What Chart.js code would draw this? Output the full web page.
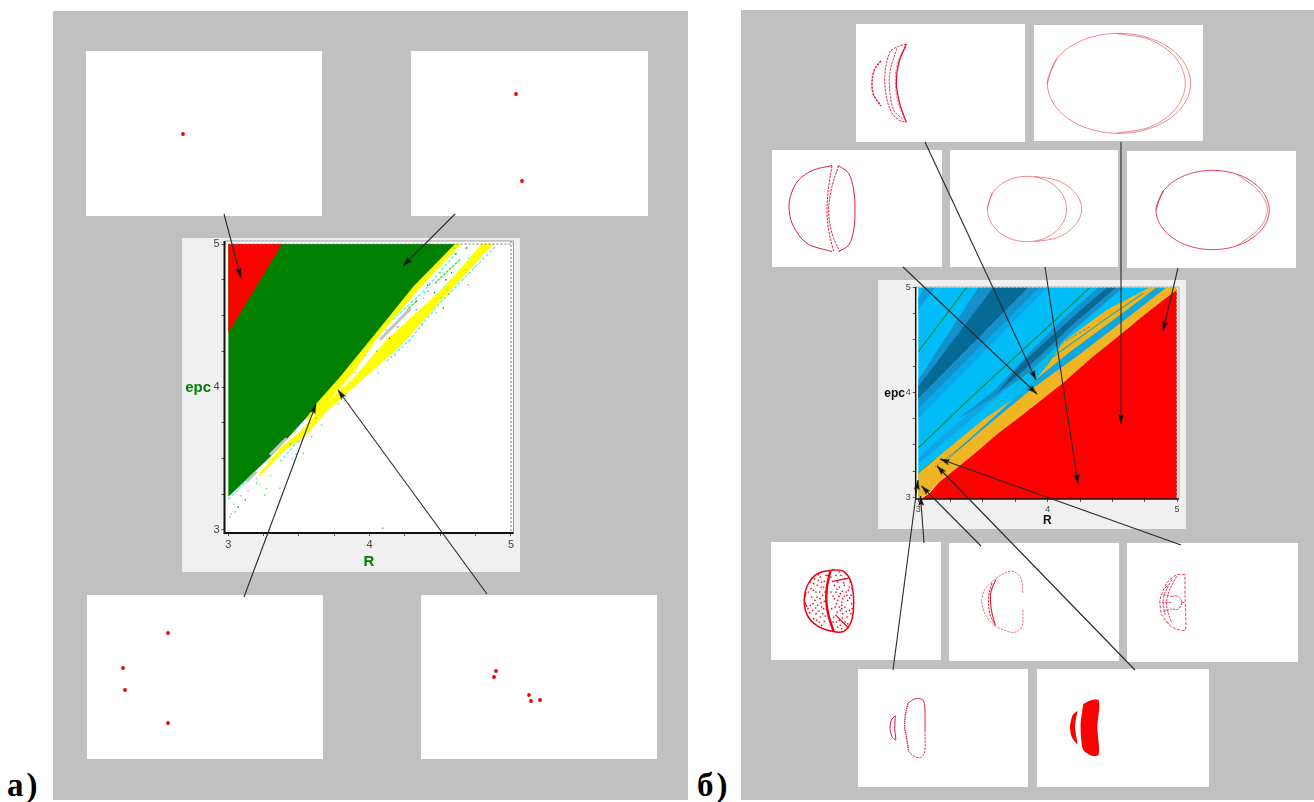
<!DOCTYPE html>
<html><head><meta charset="utf-8">
<script src="https://cdn.jsdelivr.net/npm/chart.js@4/dist/chart.umd.js"></script>
<style>
html,body{margin:0;padding:0;background:#fff}
#page{position:relative;width:1314px;height:802px;overflow:hidden;background:#fff}
.gray{position:absolute;background:#c0c0c0}
.box{position:absolute;background:#fff}
.box canvas,#overlay{position:absolute;left:0;top:0;filter:blur(.4px)}
.frame{background:#f0f0f0}
.lab{position:absolute;font:bold 33px "Liberation Serif",serif;letter-spacing:3px;color:#000;line-height:33px}
</style></head><body><div id="page">
<div class="gray" style="left:53px;top:11px;width:635px;height:789px"></div>
<div class="gray" style="left:741px;top:10px;width:573px;height:790px"></div>
<div class="lab" style="left:7px;top:769px">а)</div>
<div class="lab" style="left:697px;top:769px">б)</div>
</div>
<script>
// ---------- main map а) : values read as [R, epc]
const AXIS_TICKS=[3,3.25,3.5,3.75,4,4.25,4.5,4.75,5];
const A_RED=[[3,5],[3.38,5],[3,4.38]];
const A_GREEN=[[3,5],[4.62,5],[4.33,4.69],[4.06,4.38],[3.884,4.14],[3.767,4.0],[3.672,3.89],[3.554,3.787],[3.318,3.532],[3,3.233]];
const A_YELLOW_1=[[4.604,5],[4.651,5],[4.344,4.68],[4.05,4.335],[3.884,4.097],[3.767,3.968],[3.672,3.852],[3.566,3.777],[3.55,3.78],[3.625,3.887],[3.79,4.07],[4.073,4.412],[4.309,4.703]];
const A_YELLOW_2=[[4.793,5],[4.875,5],[4.568,4.669],[4.215,4.283],[3.908,4.015],[3.696,3.828],[3.554,3.665],[3.389,3.548],[3.224,3.38],[3.212,3.385],[3.366,3.572],[3.507,3.688],[3.672,3.863],[3.884,4.062],[4.12,4.33],[4.521,4.692]];
const A_CYAN_LINES=[
 [[4.887,4.98],[4.497,4.587],[4.285,4.33],[4.12,4.18]],
 [[3.366,3.478],[3.531,3.665]],
 [[4.615,4.94],[4.38,4.667],[4.073,4.389],[3.884,4.155],[3.755,3.968]],
 [[4.78,4.96],[4.309,4.47]],
 [[3,3.215],[3.165,3.385]]];
const A_GREEN_LINES=[[[4.639,4.891],[4.462,4.727]],[[4.333,4.6],[4.262,4.54]],[[3.46,3.642],[3.36,3.56]]];
const A_GRAY_LINES=[[[4.29,4.55],[4.073,4.33]],[[3.413,3.642],[3.295,3.525]],[[3.2,3.408],[3.13,3.34]]];
const A_DOTS_DARK=[[4.686,4.972],[4.521,4.552],[4.54,4.75],[4.41,4.71],[4.33,4.6],[4.61,4.93],[3.12,3.21],[3.07,3.16],[4.2,4.42],[4.14,4.34],[4.46,4.66],[4.58,4.8]];
const A_DOTS_GREEN=[[3.047,3.128],[3.259,3.245],[3.59,3.653],[3.53,3.537],[3.66,3.735],[3.366,3.292],[4.56,4.65],[4.37,4.44],[3.62,3.78],[3.78,3.88],[3.2,3.33],[3.27,3.29],[3.48,3.53],[4.5,4.8],[4.39,4.66],[4.6,4.97],[4.12,4.4],[4.05,4.25],[3.44,3.6],[3.5,3.62]];
const A_DOTS_GRAY=[[3.012,3.093],[3.04,3.18],[3.09,3.24],[3.14,3.27],[3.2,3.36],[4.38,4.62],[3.9,4.1],[4.5,4.62],[4.55,4.68],[4.68,4.82],[3.02,3.11]];
const A_DOTS_CYAN=[[4.74,4.84],[4.47,4.52],[4.28,4.32],[4.06,4.1],[3.82,3.9],[3.45,3.5],[4.18,4.22],[3.3,3.38],[4.52,4.8],[4.43,4.72],[4.7,4.9],[3.22,3.32],[3.97,4.22]];
const A_DOTS_OTHER=[[4.092,3.012],[4.415,4.67],[4.33,4.54],[4.47,4.73]];
const A_DOT_ORANGE=[[4.698,4.715]];
// ---------- main map б)
const B_SKY=[[3,5],[5,5],[5,4.9],[3,3]];
const B_CORNER=[[3.04,5],[3.13,5],[3,4.784],[3,4.895]];
const B_MID_1=[[3.464,5],[3.94,5],[3,3.847],[3,4.117]];
const B_SOFT_1=[[3.94,5],[4.0,5],[3,3.75],[3,3.847]];
const B_DARK_1=[[3.58,5],[3.85,5],[3,3.943],[3,4.053]];
const B_SOFT_2=[[3.618,4.038],[3.65,4.0],[3.1,3.42],[3.01,3.33],[3,3.37],[3.077,3.467]];
const B_MID_2=[[4.392,5],[4.585,5],[4.198,4.592],[3.864,4.197],[3.593,3.96],[3.3,3.74],[3.59,4.02],[3.864,4.387],[4.095,4.672]];
const B_DARK_2=[[4.46,5],[4.53,5],[4.198,4.65],[3.864,4.26],[3.6,3.985],[3.8,4.28],[4.18,4.7]];
const B_GOLD=[[4.79,5],[5,5],[5,4.93],[4.572,4.54],[4.108,4.06],[3.696,3.68],[3.335,3.3],[3.052,3.02],[3.01,2.985],[3,2.985],[3,3.229],[3.31,3.546],[3.516,3.752],[3.747,3.943],[3.877,4.07],[4.018,4.29],[4.121,4.482],[4.456,4.784]];
const B_STRIP=[[4.843,5],[4.92,5],[4.611,4.705],[4.224,4.34],[3.864,4.02],[3.516,3.665],[3.232,3.365],[3.232,3.375],[3.516,3.69],[3.864,4.08],[4.173,4.387],[4.559,4.736]];
const B_RED=[[3.02,2.985],[3.09,3.04],[3.16,3.14],[3.232,3.212],[3.43,3.41],[3.619,3.61],[3.8,3.78],[4.018,3.99],[4.121,4.09],[4.34,4.33],[4.559,4.546],[4.73,4.72],[4.894,4.879],[4.998,4.974],[5,2.985]];
const B_GREEN_LINES=[[[3.374,5],[3,4.387]],[[4.327,5],[4.018,4.641],[3.4,3.943],[3,3.47]],[[3.13,3.36],[3,3.226]]];
const B_GOLD_LINE=[[4.739,4.943],[4.456,4.705],[4.095,4.387],[3.864,4.18]];
const B_EDGE_DASH=[[4.327,4.625],[4.044,4.42],[3.915,4.276],[3.722,4.02],[3.541,3.783]];
const B_DARK_SPECK=[[3.39,3.54],[3.13,3.29]];
// ---------- а) attractor insets (inset px)
const A1_PTS=[[97,83]];
const A2_PTS=[[105,43],[111,130]];
const A3_PTS=[[81,38],[36,73],[38,95],[81,128]];
const A4_PTS=[[75,76],[73,82],[108,100],[110,106],[119,105]];
// ---------- б) attractor insets (inset px ×3)
const C1_MAIN=[[151,60],[125,68],[103,83],[88,138],[88,198],[103,258],[128,288],[151,295]];
const C1_RIGHT=[[151,60],[128,118],[121,178],[131,238],[151,295]];
const C1_RIGHT2=[[148,65],[124,118],[118,178],[127,238],[148,290]];
const C1_INNER=[[123,73],[103,138],[101,198],[113,258],[143,288]];
const C1_LEFT=[[75,110],[55,138],[48,178],[53,213],[75,246]];
const C2_OUT=[[40,175],[69,100],[147,45],[255,25],[362,45],[441,100],[470,175],[441,250],[362,305],[255,325],[147,305],[69,250],[40,175],[69,100]];
const C2_IN=[[247,25],[350,45],[426,100],[454,175],[426,250],[350,305],[247,325]];
const C3_LEFT=[[180,47],[125,60],[80,90],[55,140],[52,185],[65,230],[105,280],[180,305]];
const C3_RIGHT=[[200,47],[230,70],[245,120],[249,180],[245,240],[230,285],[200,305]];
const C3_BAND_A=[[180,47],[170,110],[165,180],[170,240],[185,305]];
const C3_BAND_B=[[200,47],[180,110],[170,180],[180,250],[203,305]];
const C4_IN=[[112,177],[128,128],[171,92],[231,79],[291,92],[334,128],[350,177],[334,226],[291,262],[231,275],[171,262],[128,226],[112,177],[128,128]];
const C4_OUT=[[253,79],[324,92],[375,128],[395,177],[375,226],[324,262],[253,275]];
const C5_OUT=[[87,177],[110,118],[172,74],[257,58],[342,74],[404,118],[427,177],[404,236],[342,280],[257,296],[172,280],[110,236],[87,177],[110,118]];
const C5_IN=[[330,70],[395,120],[421,177],[395,234],[330,284]];
const C6_OUT=[[183,85],[143,93],[113,123],[100,168],[108,218],[138,251],[183,268],[218,268],[241,238],[248,183],[241,123],[218,88],[183,83]];
const C6_BAND=[[178,88],[168,133],[166,178],[173,223],[188,268]];
const C6_DIAG=[[[188,118],[233,108]],[[193,218],[233,258]],[[105,150],[100,175],[108,195]]];
const C6_DOTS=[[120,140],[128,125],[135,150],[142,115],[150,135],[155,160],[148,105],[160,118],[122,165],[132,175],[140,190],[150,182],[158,200],[125,205],[135,215],[148,225],[160,238],[145,240],[155,215],[162,150],[118,190],[128,230],[165,100],[138,165],[112,150],[118,120],[127,145],[139,130],[146,150],[152,120],[158,135],[111,200],[116,212],[126,185],[134,198],[144,207],[152,195],[160,178],[147,170],[137,235],[152,250],[163,222],[170,100],[130,110],[142,98],
[180,105],[195,100],[210,100],[222,110],[190,130],[205,135],[220,130],[235,135],[195,150],[208,155],[225,150],[240,160],[190,170],[200,175],[215,170],[230,175],[242,185],[192,195],[205,195],[222,195],[235,205],[198,210],[215,215],[228,225],[240,215],[205,235],[222,240],[200,255],[212,260],[180,150],[182,200],[186,240],[212,180],[212,190],[212,200],[237,120],[200,120],[228,160],[185,118],[198,142],[214,148],[232,145],[186,162],[204,163],[220,162],[236,168],[196,185],[208,205],[226,208],[188,225],[214,228],[196,240],[230,245],[208,250],[218,122],[243,140],[244,200],[226,96],[205,90]];
const C7_TOP=[[97,175],[107,140],[137,110],[167,90],[192,85],[215,105],[222,150]];
const C7_BOTTOM=[[222,200],[219,250],[197,268],[167,262],[137,248],[109,215],[97,175]];
const C7_IN_A=[[140,110],[125,150],[127,200],[139,248]];
const C7_IN_B=[[129,120],[119,160],[122,210],[137,245]];
const C8_OUT=[[174,95],[149,95],[119,120],[99,170],[104,215],[134,252],[174,262],[176,220],[174,160],[174,95]];
const C8_IN=[[[149,100],[124,150],[119,190],[134,240]],[[134,110],[109,165],[114,215]],[[134,160],[154,160],[164,178],[154,198],[134,198]],[[109,155],[134,160]],[[109,205],[134,198]],[[164,178],[174,178]],[[104,178],[134,178]],[[114,135],[124,125]],[[119,235],[129,245]]];
const C9_SMALL=[[112,140],[100,153],[96,178],[102,203],[113,213],[110,178],[112,140]];
const C9_BIG_TOP=[[150,103],[170,90],[192,91],[200,108],[201,183]];
const C9_BIG_BOT=[[201,183],[200,248],[190,265],[170,263],[152,248]];
const C9_BIG_LEFT=[[150,103],[143,133],[140,173],[145,203],[152,248]];
const C10_BIG=[[139,105],[164,93],[184,93],[187,113],[181,173],[186,233],[184,258],[164,260],[139,243],[132,203],[131,163],[136,123]];
const C10_SMALL=[[122,125],[107,138],[99,173],[104,203],[121,225],[117,198],[114,173],[117,148]];
// ---------- annotation arrows on the page [from, to]
const ARROWS=[
 [[224,214],[241,278]],[[455,214],[403,266]],[[244,597],[316,404]],[[487,594],[338,390]],
 [[925,142],[1036,380]],[[1121,142],[1121,424]],[[903,267],[1037,394]],[[1045,267],[1078,484]],[[1178,268],[1163,331]],
 [[924,543],[920.5,496]],[[893,670],[918,480]],[[981,546],[921.5,486]],[[1135,670],[937,466]],[[1181,545],[940,459]]];

const page=document.getElementById('page');
function makeBox(cls,l,t,w,h){const d=document.createElement('div');d.className=cls;d.style.cssText=`left:${l}px;top:${t}px;width:${w}px;height:${h}px`;const c=document.createElement('canvas');c.width=w;c.height=h;c.style.width=w+'px';c.style.height=h+'px';d.appendChild(c);page.appendChild(d);return c;}
const base={responsive:false,animation:false,devicePixelRatio:1,events:[],plugins:{legend:{display:false},tooltip:{enabled:false}}};
const shape=(d,c)=>({data:d,backgroundColor:c,borderWidth:0,pointRadius:0,fill:'shape',tension:0});
const stroke=(d,c,w,extra)=>Object.assign({data:d,borderColor:c,borderWidth:w,pointRadius:0,fill:false,tension:0},extra||{});
const dots=(d,c,r,st)=>({data:d,showLine:false,pointStyle:st||'circle',pointRadius:r,pointBackgroundColor:c,pointBorderWidth:0,fill:false});

function mainChart(cfg){
 const c=makeBox('box frame',cfg.l,cfg.t,cfg.w,cfg.h);
 const framePlugin={id:'frame',
  beforeDatasetsDraw(ch){const a=ch.chartArea,g=ch.ctx;g.save();g.fillStyle='#fff';g.fillRect(a.left,a.top,a.width,a.height);g.restore();},
  afterDatasetsDraw(ch){
   const a=ch.chartArea,x=ch.scales.x,y=ch.scales.y,g=ch.ctx;
   g.save();g.setLineDash([2,2]);g.strokeStyle=cfg.dash;g.lineWidth=1;g.beginPath();
   g.moveTo(x.getPixelForValue(5),a.top);g.lineTo(x.getPixelForValue(5),a.bottom);
   g.moveTo(a.left,y.getPixelForValue(5));g.lineTo(a.right,y.getPixelForValue(5));g.stroke();
   g.setLineDash([]);g.strokeStyle=cfg.edge;g.lineWidth=1;g.beginPath();g.moveTo(a.left,a.top);g.lineTo(a.right,a.top);g.lineTo(a.right,a.bottom);g.stroke();
   g.strokeStyle='#111';g.lineWidth=cfg.axisW;g.beginPath();g.moveTo(a.left,a.top);g.lineTo(a.left,a.bottom);g.lineTo(a.right,a.bottom);g.stroke();
   const t=y.options.title;g.font=`bold ${t.font.size}px "Liberation Sans",sans-serif`;g.fillStyle=t.color;g.textAlign='right';g.textBaseline='middle';
   g.fillText(t.text,cfg.epcX,y.getPixelForValue(4)+1);
   g.restore();}};
 const lab=v=>Number.isInteger(v)?String(v):'';
 const tickCommon={callback:lab,autoSkip:false,maxRotation:0,minRotation:0,font:{size:cfg.tick,family:'"Liberation Sans",sans-serif'},color:'#444'};
 return new Chart(c,{type:'line',data:{datasets:cfg.layers.slice().reverse()},plugins:[framePlugin],options:Object.assign({},base,{
  parsing:{xAxisKey:0,yAxisKey:1},
  layout:{autoPadding:false,padding:{top:cfg.pt,right:cfg.pr,left:0,bottom:0}},
  scales:{
   x:{type:'linear',min:cfg.x[0],max:cfg.x[1],afterBuildTicks:s=>{s.ticks=AXIS_TICKS.map(v=>({value:v}))},afterFit:s=>{s.height=cfg.pb;s.paddingLeft=0;s.paddingRight=0;},
      ticks:Object.assign({padding:2},tickCommon),grid:{drawOnChartArea:false,tickLength:3,color:'#555'},border:{display:false},
      title:{display:true,text:'R',color:cfg.title,font:{size:cfg.rs,weight:'bold',family:'"Liberation Sans",sans-serif'},padding:{top:0,bottom:cfg.rb}}},
   y:{type:'linear',min:cfg.y[0],max:cfg.y[1],afterBuildTicks:s=>{s.ticks=AXIS_TICKS.map(v=>({value:v}))},afterFit:s=>{s.width=cfg.pl;s.paddingTop=0;s.paddingBottom=0;},
      ticks:Object.assign({padding:2},tickCommon),grid:{drawOnChartArea:false,tickLength:3,color:'#555'},border:{display:false},
      title:{display:false,text:'epc',color:cfg.title,font:{size:cfg.es,weight:'bold'}}}
  }})});
}

mainChart({l:182,t:238,w:338,h:334,pt:3,pr:6.5,pl:42.5,pb:39,x:[2.973,5.018],y:[2.979,5.021],tick:11,title:'#008000',dash:'#777',edge:'#999',axisW:2,rs:15,rb:1,es:15,epcX:29,
 layers:[
  shape(A_GREEN,'#008000'),shape(A_RED,'#ff0000'),
  ...A_GRAY_LINES.map(d=>stroke(d,'#c4c4c4',3)),
  ...A_GREEN_LINES.map(d=>stroke(d,'#40e040',1.3,{borderDash:[3,1]})),
  ...A_CYAN_LINES.map(d=>stroke(d,'#30f0f0',1.1,{borderDash:[3,2]})),
  shape(A_YELLOW_1,'#ffff00'),shape(A_YELLOW_2,'#ffff00'),
  dots(A_DOTS_DARK,'#0a6a2a',.9,'rect'),dots(A_DOTS_GREEN,'#50e050',1,'rect'),dots(A_DOTS_GRAY,'#bbbbbb',1.1,'rect'),dots(A_DOTS_CYAN,'#40f0f0',1,'rect'),dots(A_DOTS_OTHER,'#a090e0',1.1,'rect'),dots(A_DOT_ORANGE,'#f08040',.9,'rect')
 ]});

mainChart({l:878,t:280,w:308,h:249,pt:7,pr:7,pl:37.7,pb:30,x:[2.98,5.015],y:[2.984,5.003],tick:9,title:'#111',dash:'#eee',edge:'#aaa',axisW:1.5,rs:12,rb:1,es:12,epcX:27,
 layers:[
  shape(B_SKY,'#00bdf8'),shape(B_CORNER,'#0aa0de'),shape(B_SOFT_1,'#08a8e8'),shape(B_MID_1,'#1490cc'),shape(B_DARK_1,'#056a94'),shape(B_SOFT_2,'#10a5e4'),shape(B_MID_2,'#1490cc'),shape(B_DARK_2,'#0a6a94'),
  ...B_GREEN_LINES.map(d=>stroke(d,'#0f8f55',1.3)),
  shape(B_GOLD,'#f0b522'),shape(B_STRIP,'#10a8dc'),
  stroke(B_GOLD_LINE,'#3aa6a0',1.1),stroke(B_EDGE_DASH,'#2fa890',1,{borderDash:[3,2]}),stroke(B_DARK_SPECK,'#2a7a50',1,{borderDash:[1,2]}),
  shape(B_RED,'#ff0000')
 ]});

function inset(l,t,w,h,ds,units){
 const c=makeBox('box',l,t,w,h),k=units||3;
 return new Chart(c,{type:'line',data:{datasets:ds},options:Object.assign({},base,{parsing:{xAxisKey:0,yAxisKey:1},layout:{autoPadding:false,padding:0},
  scales:{x:{type:'linear',display:false,min:0,max:w*k},y:{type:'linear',display:false,min:0,max:h*k,reverse:true}}})});
}
const RED='#f00000',PINK='rgba(225,50,70,.72)',TH=.8;
const curve=(d,w,c,extra)=>stroke(d,c||PINK,w||TH,Object.assign({tension:.35},extra||{}));
const dash={borderDash:[2.5,1]};
inset(86,51,236,165,[dots(A1_PTS,RED,1.9)],1);
inset(411,51,237,165,[dots(A2_PTS,RED,1.9)],1);
inset(87,595,236,164,[dots(A3_PTS,RED,1.9)],1);
inset(421,595,236,164,[dots(A4_PTS,RED,1.9)],1);
inset(856,24,169,118,[curve(C1_MAIN,1,'#e0304a',dash),curve(C1_RIGHT,1.3,'#e01030'),curve(C1_RIGHT2,.8,PINK,dash),curve(C1_INNER,.9,'#e0304a',dash),curve(C1_LEFT,1.5,'#e02040',dash)]);
inset(1034,25,169,116,[curve(C2_OUT),curve(C2_IN)]);
inset(772,150,170,117,[curve(C3_LEFT,1,'#d82040'),curve(C3_RIGHT,1,'#d82040'),curve(C3_BAND_A,1,'#d82040',dash),curve(C3_BAND_B,1,'#d82040',dash)]);
inset(950,150,168,117,[curve(C4_IN),curve(C4_OUT)]);
inset(1127,151,169,117,[curve(C5_OUT,1,'rgba(220,40,70,.85)'),curve(C5_IN)]);
inset(771,542,170,118,[curve(C6_OUT,1.5,'#f00010'),curve(C6_BAND,2.4,'#f00010'),...C6_DIAG.map(d=>curve(d,1.2,'#f00010')),dots(C6_DOTS,'#f01020',.85)]);
inset(949,543,170,118,[curve(C7_TOP,.9,PINK,dash),curve(C7_BOTTOM,.9,PINK,dash),curve(C7_IN_A,1.1,'#d82040'),curve(C7_IN_B,1,'#d82040',dash)]);
inset(1127,543,171,119,[curve(C8_OUT,.9,'#e02848',{borderDash:[3,1.5],tension:.2}),...C8_IN.map(d=>curve(d,.9,'#e02848',{borderDash:[2.5,1]}))]);
inset(858,669,170,118,[curve(C9_SMALL,1,'#e01030',{tension:.2}),curve(C9_BIG_TOP,1,'#e02040'),curve(C9_BIG_BOT,.9,'#e02040',dash),curve(C9_BIG_LEFT,1.4,'#e02040',{borderDash:[1.5,.7]})]);
inset(1037,669,172,118,[Object.assign(shape(C10_BIG,'#fa0000'),{tension:.25}),Object.assign(shape(C10_SMALL,'#fa0000'),{tension:.25})]);

// narrow arrow head image whose tip sits at its centre
const head=document.createElement('canvas');head.width=6;head.height=20;
(g=>{g.fillStyle='#111';g.beginPath();g.moveTo(3,10);g.lineTo(6,20);g.lineTo(3,18);g.lineTo(0,20);g.closePath();g.fill();})(head.getContext('2d'));

// overlay with arrows, page-unit scales
const ov=document.createElement('canvas');ov.id='overlay';ov.width=1314;ov.height=802;ov.style.cssText='position:absolute;left:0;top:0;width:1314px;height:802px;pointer-events:none';page.appendChild(ov);
new Chart(ov,{type:'line',data:{datasets:ARROWS.map(a=>{
  const ang=Math.atan2(a[1][0]-a[0][0],-(a[1][1]-a[0][1]))*180/Math.PI;
  return {data:a,borderColor:'#2a2a2a',borderWidth:1.1,fill:false,tension:0,pointStyle:head,pointRadius:[0,5],pointRotation:[0,ang],pointBorderWidth:0};
 })},options:Object.assign({},base,{parsing:{xAxisKey:0,yAxisKey:1},layout:{autoPadding:false,padding:0},
  scales:{x:{type:'linear',display:false,min:0,max:1314},y:{type:'linear',display:false,min:0,max:802,reverse:true}}})});
</script></body></html>
